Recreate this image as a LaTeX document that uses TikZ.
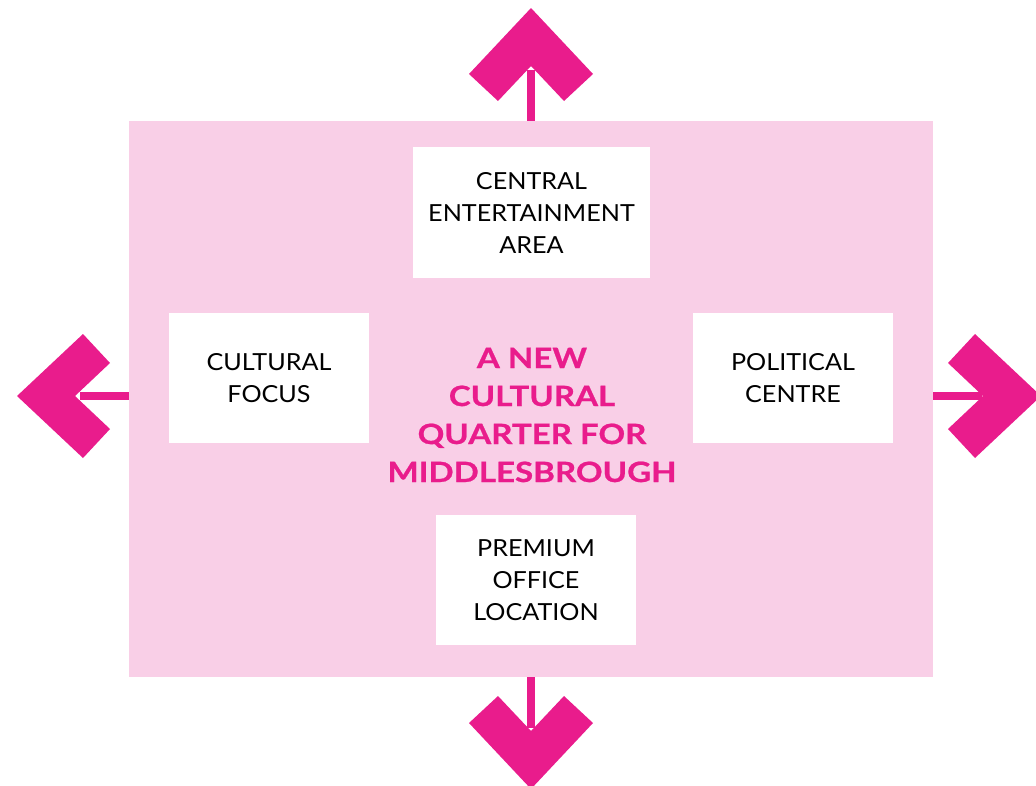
\documentclass[tikz,border=0pt]{standalone}
\usepackage{fontspec}
\setmainfont[FakeStretch=1.07]{Lato}
\newfontfamily\titlefont[FakeStretch=1.18,FakeBold=0.8]{Lato}
\definecolor{quarterpink}{RGB}{249,207,231}
\definecolor{hotpink}{RGB}{233,28,140}
\begin{document}
\begin{tikzpicture}[x=1pt,y=-1pt,
    areabox/.style={fill=white,inner sep=0pt,align=center,text=black,
      font=\fontsize{23.5}{32}\selectfont},
    shaft/.style={draw=hotpink,line width=8pt},
    chevron/.pic={\fill[hotpink] (0,0) -- (62,66) -- (33,93) -- (0,58) -- (-33,93) -- (-62,66) -- cycle;}]
  \useasboundingbox (0,0) rectangle (1036,785);
  % pink quarter
  \node[fill=quarterpink,minimum width=804pt,minimum height=556pt,inner sep=0pt] (quarter) at (531,399) {};
  % arrow tips
  \coordinate (tipN) at (531,70);
  \coordinate (tipS) at (531,728);
  \coordinate (tipW) at (80,396);
  \coordinate (tipE) at (982,396);
  \draw[shaft] (quarter.north) -- (tipN);
  \draw[shaft] (quarter.south) -- (tipS);
  \draw[shaft] (tipW -| quarter.west) -- (tipW);
  \draw[shaft] (tipE -| quarter.east) -- (tipE);
  \pic at (531,8) {chevron};
  \pic[rotate=180] at (531,789) {chevron};
  \pic[rotate=90] at (17,396) {chevron};
  \pic[rotate=-90] at (1041,396) {chevron};
  % boxes
  \node[areabox,minimum width=237pt,minimum height=131pt] (central) at (531.5,212.5) {CENTRAL\\ENTERTAINMENT\\AREA};
  \node[areabox,minimum width=200pt,minimum height=130pt] (cultural) at (269,378) {CULTURAL\\FOCUS};
  \node[areabox,minimum width=200pt,minimum height=130pt] (political) at (793,378) {POLITICAL\\CENTRE};
  \node[areabox,minimum width=200pt,minimum height=130pt] (premium) at (536,580) {PREMIUM\\OFFICE\\LOCATION};
  % title
  \node[align=center,text=hotpink,font=\titlefont\bfseries\fontsize{28}{38}\selectfont] (title) at (532,415) {A NEW\\CULTURAL\\QUARTER FOR\\MIDDLESBROUGH};
\end{tikzpicture}
\end{document}
